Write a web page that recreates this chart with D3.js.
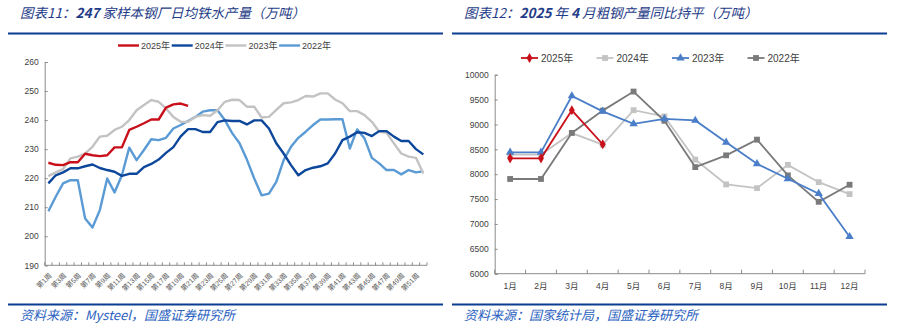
<!DOCTYPE html>
<html>
<head>
<meta charset="utf-8">
<script src="https://cdn.jsdelivr.net/npm/d3@7"></script>
<style>
  body { margin: 0; background: #fff; }
  svg text { font-family: "Liberation Sans", Arial, "Noto Sans CJK SC", sans-serif; }
  .title, .source { font-family: "Noto Sans CJK SC", sans-serif !important; font-style: italic; }
</style>
</head>
<body>
<div id="chart-area"></div>
<script>
// ---- data: left chart (weekly, 万吨) ----
var weeks = d3.range(1, 53);
var weekLabels = weeks.map(function(w){ return "第" + w + "周"; });
var iron2025 = [225.3, 224.6, 224.5, 225.5, 225.5, 228.4, 227.9, 227.6, 227.9, 230.6,
                230.6, 236.6, 237.7, 238.9, 240.2, 240.2, 244.3, 245.4, 245.7, 244.9];
var iron2024 = [218.2, 221.0, 222.0, 223.4, 223.4, 224.1, 224.7, 223.5, 222.8, 222.2,
                220.8, 221.5, 221.5, 223.8, 224.9, 226.4, 228.7, 230.7, 234.4, 236.9,
                236.9, 235.9, 235.9, 239.3, 239.9, 239.7, 239.7, 238.5, 239.9, 239.9,
                237.1, 232.0, 228.5, 224.5, 221.0, 222.8, 223.6, 224.1, 225.1, 228.5,
                233.1, 234.3, 235.8, 235.6, 234.5, 236.2, 236.2, 234.3, 232.8, 232.8,
                230.0, 228.2];
var iron2023 = [220.7, 222.0, 223.1, 226.8, 227.4, 228.5, 230.8, 234.3, 234.6, 236.6,
                237.7, 240.0, 243.4, 245.2, 246.9, 246.3, 244.0, 241.1, 239.4, 239.4,
                241.1, 241.7, 241.5, 243.4, 246.3, 247.0, 246.9, 244.6, 244.6, 240.9,
                241.1, 243.5, 245.8, 246.1, 246.9, 248.3, 248.1, 249.2, 249.2, 247.1,
                245.8, 243.1, 243.1, 241.7, 239.4, 236.0, 235.6, 232.0, 228.5, 227.4,
                227.0, 221.6];
var iron2022 = [208.6, 213.6, 218.2, 219.3, 219.3, 206.1, 203.0, 209.0, 219.9, 215.1,
                221.0, 230.5, 226.2, 229.7, 233.4, 233.1, 233.9, 237.1, 238.3, 239.7,
                241.1, 242.9, 243.4, 243.4, 240.0, 235.5, 232.0, 226.4, 219.9, 214.1,
                214.7, 218.7, 226.2, 230.8, 233.9, 236.0, 238.3, 240.2, 240.2, 240.3,
                240.3, 230.2, 236.8, 233.7, 227.0, 225.1, 222.8, 222.8, 221.3, 222.8,
                222.0, 222.4];
var ironTicks = [190, 200, 210, 220, 230, 240, 250, 260];

// ---- data: right chart (monthly crude steel, 万吨) ----
var months = ["1月", "2月", "3月", "4月", "5月", "6月", "7月", "8月", "9月", "10月", "11月", "12月"];
var steel2025 = [8320, 8320, 9285, 8602];
var steel2024 = [8395, 8395, 8827, 8594, 9286, 9161, 8294, 7794, 7720, 8188, 7840, 7600];
var steel2023 = [8440, 8440, 9573, 9264, 9012, 9111, 9080, 8641, 8210, 7909, 7610, 6744];
var steel2022 = [7904, 7904, 8830, 9278, 9661, 9073, 8143, 8379, 8695, 7976, 7445, 7788];
var steelTicks = [6000, 6500, 7000, 7500, 8000, 8500, 9000, 9500, 10000];

var svg = d3.select("#chart-area")
    .append("svg")
        .attr("width", 898)
        .attr("height", 332);

var navy = "#1f3c88", ruleBlue = "#0b3d91", srcBlue = "#2a62c0", axisGrey = "#8c8c8c", labelGrey = "#404040";

// ---------- headers / footers ----------
function frame(x0, x1, titleParts, source) {
    var t = svg.append("text")
        .attr("class", "title")
        .attr("x", x0 + 12)
        .attr("y", 18)
        .attr("font-size", "13.5px")
        .attr("fill", navy);
    titleParts.forEach(function(p){
        t.append("tspan")
            .attr("font-weight", p.bold ? "bold" : "normal")
            .text(p.text);
    });
    svg.append("line")
        .attr("x1", x0).attr("x2", x1)
        .attr("y1", 33.5).attr("y2", 33.5)
        .attr("stroke", ruleBlue).attr("stroke-width", 2.2);
    svg.append("line")
        .attr("x1", x0).attr("x2", x1)
        .attr("y1", 304.5).attr("y2", 304.5)
        .attr("stroke", ruleBlue).attr("stroke-width", 2.2);
    svg.append("text")
        .attr("class", "source")
        .attr("x", x0 + 12)
        .attr("y", 320)
        .attr("font-size", "13px")
        .attr("fill", srcBlue)
        .text(source);
}

frame(8, 443, [{text: "图表11："}, {text: "247", bold: true}, {text: " 家样本钢厂日均铁水产量（万吨）"}],
      "资料来源：Mysteel，国盛证券研究所");
frame(452, 887, [{text: "图表12："}, {text: "2025", bold: true}, {text: " 年 "}, {text: "4", bold: true}, {text: " 月粗钢产量同比持平（万吨）"}],
      "资料来源：国家统计局，国盛证券研究所");

// ================= LEFT CHART =================
var xL = d3.scaleBand().domain(weeks).range([44.7, 427]).padding(0);
var yL = d3.scaleLinear().domain([190, 260]).range([265.3, 62]);

var gL = svg.append("g");

// Y axis
var yAxisL = gL.append("g")
    .attr("transform", "translate(44.7,0)")
    .call(d3.axisRight(yL).tickValues(ironTicks).tickSize(3).tickFormat(d3.format("d")));
yAxisL.select(".domain").attr("stroke", axisGrey);
yAxisL.selectAll(".tick line").attr("stroke", axisGrey);
yAxisL.selectAll(".tick text")
    .attr("x", -6)
    .attr("text-anchor", "end")
    .attr("font-size", "8.5px")
    .attr("fill", labelGrey);

// X axis (ticks between categories, pointing inward)
var xAxisL = gL.append("g").attr("transform", "translate(0,265.3)");
xAxisL.append("line")
    .attr("x1", 44.7).attr("x2", 427)
    .attr("stroke", axisGrey);
xAxisL.selectAll(".xt")
    .data(weeks.concat([53]))
    .enter().append("line")
        .attr("x1", function(d){ return d <= 52 ? xL(d) : xL(52) + xL.bandwidth(); })
        .attr("x2", function(d){ return d <= 52 ? xL(d) : xL(52) + xL.bandwidth(); })
        .attr("y1", 0).attr("y2", -3)
        .attr("stroke", axisGrey);
xAxisL.selectAll(".xl")
    .data(weeks.filter(function(w){ return w % 2 === 1; }))
    .enter().append("text")
        .attr("transform", function(d){
            return "translate(" + (xL(d) + xL.bandwidth() / 2 + 2) + ",9) rotate(-45)";
        })
        .attr("text-anchor", "end")
        .attr("dy", "0.35em")
        .attr("font-size", "7px")
        .attr("font-family", "'Noto Sans CJK SC', sans-serif")
        .attr("fill", "#595959")
        .text(function(d){ return weekLabels[d - 1]; });

var lineL = d3.line()
    .x(function(d, i){ return xL(weeks[i]) + xL.bandwidth() / 2; })
    .y(function(d){ return yL(d); });

var seriesL = [
    { name: "2022年", values: iron2022, color: "#5b9bd5" },
    { name: "2023年", values: iron2023, color: "#c3c3c3" },
    { name: "2024年", values: iron2024, color: "#0d479b" },
    { name: "2025年", values: iron2025, color: "#c9101a" }
];
seriesL.forEach(function(s){
    gL.append("path")
        .attr("d", lineL(s.values))
        .attr("fill", "none")
        .attr("stroke", s.color)
        .attr("stroke-width", 2.4)
        .attr("stroke-linejoin", "round");
});

// legend
var legL = gL.append("g").attr("transform", "translate(118,45.5)");
seriesL.slice().reverse().forEach(function(s, i){
    var g = legL.append("g").attr("transform", "translate(" + (i * 53.7) + ",0)");
    g.append("line").attr("x1", 0).attr("x2", 21)
        .attr("stroke", s.color).attr("stroke-width", 2.4);
    g.append("text").attr("x", 23).attr("dy", "0.35em")
        .attr("font-size", "9px").attr("fill", labelGrey)
        .text(s.name);
});

// ================= RIGHT CHART =================
var xR = d3.scaleBand().domain(months).range([494.7, 865]).padding(0);
var yR = d3.scaleLinear().domain([6000, 10000]).range([273.7, 74.7]);

var gR = svg.append("g");

var yAxisR = gR.append("g")
    .attr("transform", "translate(494.7,0)")
    .call(d3.axisRight(yR).tickValues(steelTicks).tickSize(3).tickFormat(d3.format("d")));
yAxisR.select(".domain").attr("stroke", axisGrey);
yAxisR.selectAll(".tick line").attr("stroke", axisGrey);
yAxisR.selectAll(".tick text")
    .attr("x", -6)
    .attr("text-anchor", "end")
    .attr("font-size", "8.5px")
    .attr("fill", labelGrey);

var xAxisR = gR.append("g").attr("transform", "translate(0,273.7)");
xAxisR.append("line")
    .attr("x1", 494.7).attr("x2", 865)
    .attr("stroke", axisGrey);
xAxisR.selectAll(".xt")
    .data(months.concat(["end"]))
    .enter().append("line")
        .attr("x1", function(d){ return d === "end" ? 865 : xR(d); })
        .attr("x2", function(d){ return d === "end" ? 865 : xR(d); })
        .attr("y1", 0).attr("y2", -4)
        .attr("stroke", axisGrey);
xAxisR.selectAll(".xl")
    .data(months)
    .enter().append("text")
        .attr("x", function(d){ return xR(d) + xR.bandwidth() / 2; })
        .attr("y", 12)
        .attr("dy", "0.35em")
        .attr("text-anchor", "middle")
        .attr("font-size", "8.5px")
        .attr("fill", labelGrey)
        .text(function(d){ return d; });

var lineR = d3.line()
    .x(function(d, i){ return xR(months[i]) + xR.bandwidth() / 2; })
    .y(function(d){ return yR(d); });

var seriesR = [
    { name: "2025年", values: steel2025, color: "#c9101a", symbol: d3.symbolDiamond, size: 30 },
    { name: "2024年", values: steel2024, color: "#c3c3c3", symbol: d3.symbolSquare, size: 34 },
    { name: "2023年", values: steel2023, color: "#4a7ec8", symbol: d3.symbolTriangle, size: 30 },
    { name: "2022年", values: steel2022, color: "#7a7a7a", symbol: d3.symbolSquare, size: 34 }
];
var drawOrder = [seriesR[1], seriesR[3], seriesR[2], seriesR[0]];
drawOrder.forEach(function(s){
    gR.append("path")
        .attr("d", lineR(s.values))
        .attr("fill", "none")
        .attr("stroke", s.color)
        .attr("stroke-width", 1.8);
    gR.selectAll(null)
        .data(s.values)
        .enter().append("path")
            .attr("transform", function(d, i){
                return "translate(" + (xR(months[i]) + xR.bandwidth() / 2) + "," + yR(d) + ")";
            })
            .attr("d", d3.symbol().type(s.symbol).size(s.size))
            .attr("fill", s.color);
});

var legR = gR.append("g").attr("transform", "translate(521,58)");
seriesR.forEach(function(s, i){
    var g = legR.append("g").attr("transform", "translate(" + (i * 75.5) + ",0)");
    g.append("line").attr("x1", 0).attr("x2", 17)
        .attr("stroke", s.color).attr("stroke-width", 1.8);
    g.append("path").attr("transform", "translate(8.5,0)")
        .attr("d", d3.symbol().type(s.symbol).size(s.size))
        .attr("fill", s.color);
    g.append("text").attr("x", 20).attr("dy", "0.35em")
        .attr("font-size", "10px").attr("fill", labelGrey)
        .text(s.name);
});
</script>
</body>
</html>
